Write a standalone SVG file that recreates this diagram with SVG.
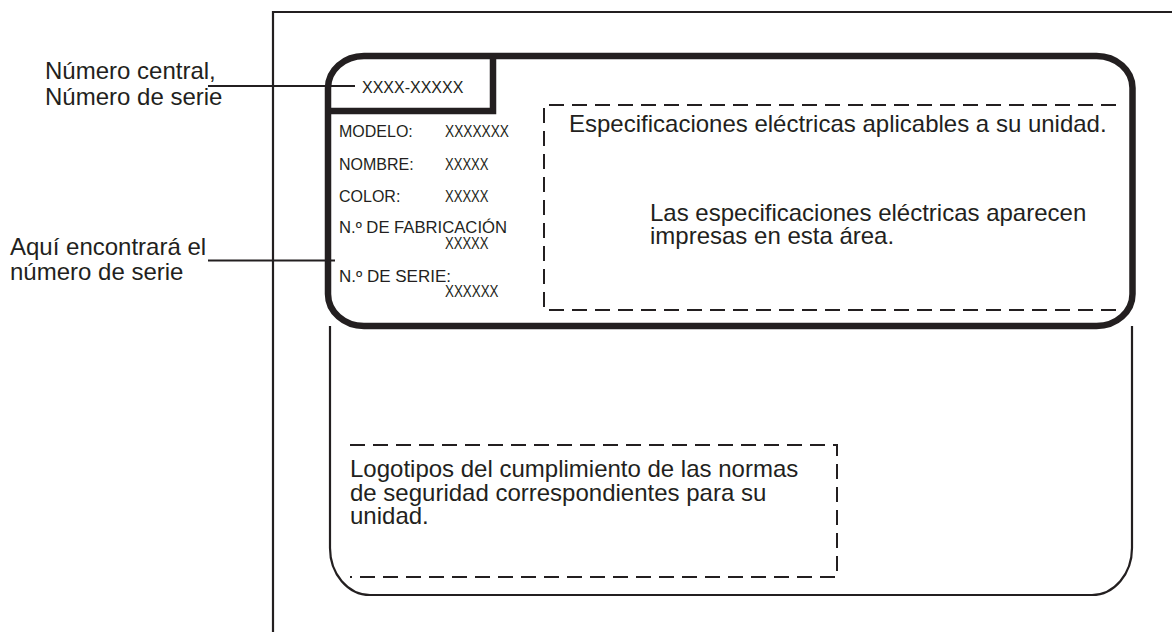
<svg xmlns="http://www.w3.org/2000/svg" width="1172" height="632" viewBox="0 0 1172 632">
<style>
  .t { font-family: "Liberation Sans", Arial, sans-serif; fill: #231f20; }
  .big { font-size: 24px; }
  .sm { font-size: 16px; }
  .thin { fill: none; stroke: #231f20; stroke-width: 2.2; }
  .thick { fill: none; stroke: #231f20; stroke-width: 6.5; }
  .dash { fill: none; stroke: #231f20; stroke-width: 2; stroke-dasharray: 15 8; }
</style>
<rect width="1172" height="632" fill="#ffffff"/>

<g id="frame">
  <path class="thin" d="M273,632 V12 H1172"/>
</g>

<g id="lower-panel">
  <path class="thin" d="M330,326 V548 A40,47 0 0 0 370,595 H1092 A40,47 0 0 0 1132,548 V326"/>
</g>

<g id="label-panel">
  <rect class="thick" x="328" y="56" width="804.5" height="270" rx="36" ry="32"/>
  <path class="thick" d="M493,56 V111 H328"/>
</g>

<g id="serial-tab">
  <text class="t sm" x="362" y="93.3">XXXX-XXXXX</text>
</g>

<g id="fields">
  <text class="t sm" x="339" y="137.3">MODELO:</text>
  <text class="t sm" x="445" y="137.3" textLength="64" lengthAdjust="spacingAndGlyphs">XXXXXXX</text>
  <text class="t sm" x="339" y="170">NOMBRE:</text>
  <text class="t sm" x="445" y="170" textLength="43.5" lengthAdjust="spacingAndGlyphs">XXXXX</text>
  <text class="t sm" x="339" y="201.7">COLOR:</text>
  <text class="t sm" x="445" y="201.7" textLength="43.5" lengthAdjust="spacingAndGlyphs">XXXXX</text>
  <text class="t sm" x="339" y="233.3" textLength="168" lengthAdjust="spacingAndGlyphs">N.º DE FABRICACIÓN</text>
  <text class="t sm" x="445" y="249.3" textLength="43.5" lengthAdjust="spacingAndGlyphs">XXXXX</text>
  <text class="t sm" x="339" y="281.7" textLength="112" lengthAdjust="spacingAndGlyphs">N.º DE SERIE:</text>
  <text class="t sm" x="445" y="297.3" textLength="53.5" lengthAdjust="spacingAndGlyphs">XXXXXX</text>
</g>

<g id="electrical-area">
  <path class="dash" d="M1116,105 H544 V310 H1118"/>
  <text class="t big" x="569" y="132">Especificaciones eléctricas aplicables a su unidad.</text>
  <text class="t big" x="650" y="221">Las especificaciones eléctricas aparecen</text>
  <text class="t big" x="650" y="243.5">impresas en esta área.</text>
</g>

<g id="logo-area">
  <path class="dash" d="M350,445 H837 V577 H350"/>
  <text class="t big" x="350" y="477">Logotipos del cumplimiento de las normas</text>
  <text class="t big" x="350" y="500.5">de seguridad correspondientes para su</text>
  <text class="t big" x="350" y="524">unidad.</text>
</g>

<g id="callout-central">
  <text class="t big" x="45" y="79">Número central,</text>
  <text class="t big" x="45" y="104.5">Número de serie</text>
</g>

<g id="callout-serial">
  <text class="t big" x="10" y="255">Aquí encontrará el</text>
  <text class="t big" x="10" y="280">número de serie</text>
</g>

<g id="connectors">
  <line class="thin" x1="208" y1="86" x2="355" y2="86"/>
  <line class="thin" x1="208" y1="260.5" x2="335" y2="260.5"/>
</g>
</svg>
